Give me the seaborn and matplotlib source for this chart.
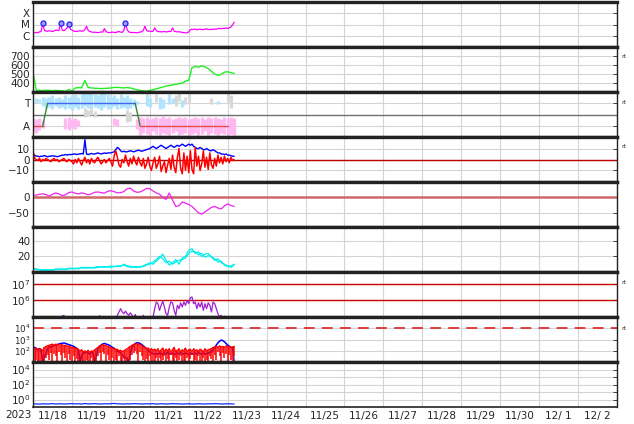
import numpy as np
import matplotlib
matplotlib.use('Agg')
import matplotlib.pyplot as plt
from matplotlib.ticker import NullLocator
import seaborn as sns

# time axis: hours since 2023-11-18 00:00
hours = np.arange(0, 125)
hours2 = np.arange(0, 125, 2)
day_labels = ['11/18', '11/19', '11/20', '11/21', '11/22', '11/23', '11/24', '11/25',
              '11/26', '11/27', '11/28', '11/29', '11/30', '12/ 1', '12/ 2']

# X-ray flux, units of 1e-6 W/m2 (C class), hourly
xray_c = [1.8, 1.8, 2.0, 1.9, 2.2, 2.4, 13, 3.2, 2.6, 2.5, 2.8, 2.6, 2.4, 2.7, 3.2, 3.0, 2.9, 13, 3.2, 2.8, 3.5, 5.0, 12, 4.0,
          3.2, 2.6, 2.5, 2.4, 2.6, 2.8, 2.5, 2.7, 3.5, 7.0, 3.0, 2.4, 2.2, 2.0, 2.1, 2.0, 1.9, 2.0, 2.2, 2.1, 4.3, 2.4, 2.0, 1.9,
          2.0, 2.1, 2.0, 1.9, 2.2, 2.4, 2.1, 2.0, 3.0, 13, 3.5, 2.2, 2.0, 1.9, 2.0, 1.9, 1.8, 2.0, 2.1, 2.3, 3.0, 7.0, 3.0, 2.5,
          2.6, 2.4, 2.5, 5.0, 2.8, 2.4, 2.3, 2.2, 2.3, 2.4, 2.2, 2.3, 2.5, 2.4, 5.0, 2.6, 2.3, 2.2, 2.3, 2.1, 2.0, 1.9, 1.8, 1.8,
          2.2, 3.5, 3.8, 3.6, 4.0, 3.4, 3.7, 3.9, 3.5, 3.6, 3.8, 4.2, 3.7, 3.5, 3.9, 3.6, 4.0, 3.8, 4.3, 4.5, 4.2, 4.6, 4.4, 4.8,
          4.5, 5.0, 6.0, 9.0, 16.0]
flare_t = [6, 17, 22, 57]
flare_c = [13, 13, 12, 13]

# solar wind speed km/s, 2-hourly
speed = [520, 320, 318, 316, 320, 318, 315, 318, 316, 314, 305, 330,
         310, 345, 348, 346, 428, 350, 345, 342, 340, 338, 340, 342,
         345, 350, 352, 348, 345, 350, 345, 335, 325, 318, 312, 310,
         318, 325, 335, 345, 355, 365, 372, 378, 385, 392, 398, 420,
         430, 570, 585, 575, 590, 580, 560, 530, 500, 485, 495, 520,
         525, 515, 505]

# IMF sector: toward (+1) / away (-1)
sector_t = [0, 6, 9, 63, 66, 120]
sector_v = [-1, -1, 1, 1, -1, -1]
nan = np.nan
blue_hi = [nan, 1.5, 1.4, 1.6, 1.5, 1.6, 1.7, 1.5, 1.6, 1.4, 1.7, 1.6, 1.7, 1.8, 1.6, 1.9, 2.0, 1.9, 2.0, 1.8, 1.7,
           1.9, 2.0, 1.8, 1.6, 1.7, 1.5, 1.8, 1.6, 1.7, 1.5, 1.4, 1.2, nan, nan, 1.7, 1.5, nan, nan, 1.6, 1.4, nan,
           1.8, 1.5, nan, nan, 1.3, nan, nan, nan, nan, nan, nan, nan, nan, nan, nan, 1.2, nan, nan, nan, nan, nan]
blue_lo = [nan, 1.0, 1.1, 0.8, 0.6, 0.7, 0.5, 0.8, 0.6, 0.7, 0.5, 0.6, 0.4, 0.7, 0.5, 0.6, 0.8, 0.6, 0.5, 0.7, 0.6,
           0.4, 0.7, 0.5, 0.6, 0.8, 0.5, 0.6, 0.7, 0.5, 0.6, 0.8, 0.9, nan, nan, 0.8, 0.7, nan, nan, 0.5, 0.6, nan,
           0.9, 1.0, nan, nan, 0.7, nan, nan, nan, nan, nan, nan, nan, nan, nan, nan, 0.9, nan, nan, nan, nan, nan]
pink_hi = [-0.3, -0.4, -0.3, -0.5, nan, nan, nan, nan, nan, nan, -0.3, -0.2, -0.4, -0.3, -0.5,
           nan, nan, nan, nan, nan, nan, nan, nan, nan, nan, -0.3, -0.4, nan, nan, nan, nan, nan, -0.4,
           -0.2, -0.3, -0.2, -0.4, -0.3, -0.2, -0.3, -0.1, -0.3, -0.2, -0.4, -0.3, -0.2, -0.3, -0.2,
           -0.4, -0.3, -0.2, -0.3, -0.2, -0.4, -0.2, -0.3, -0.2, -0.3, -0.4, -0.2, -0.3, -0.2, -0.3]
pink_lo = [-1.5, -1.6, -1.4, -1.2, nan, nan, nan, nan, nan, nan, -1.3, -1.4, -1.2, -1.3, -1.0,
           nan, nan, nan, nan, nan, nan, nan, nan, nan, nan, -0.9, -1.0, nan, nan, nan, nan, nan, -1.3,
           -1.8, -1.6, -1.7, -1.8, -1.5, -1.7, -1.8, -1.6, -1.7, -1.8, -1.6, -1.5, -1.8, -1.7, -1.6,
           -1.8, -1.7, -1.6, -1.8, -1.7, -1.5, -1.8, -1.6, -1.7, -1.8, -1.6, -1.7, -1.8, -1.7, -1.8]
grey_t = [32, 34, 36, 38, 58, 60, 70, 76, 88, 90, 94, 96, 110, 120, 122]
grey_hi = [0.6, 0.4, 0.5, 0.3, 0.4, 0.2, 1.9, 1.8, 1.7, 1.9, 1.6, 1.8, 1.5, 1.9, 1.7]
grey_lo = [-0.2, -0.1, 0.0, -0.2, -0.7, -0.6, 0.9, 1.1, 0.8, 1.2, 0.9, 1.0, 0.9, 1.1, 0.6]

# IMF Bt and Bz (nT), hourly
bt = [5, 4, 3, 3, 2.5, 3, 3, 3.5, 3, 2.5, 3, 3, 3.5, 3, 3, 2.5, 3, 3.5, 4, 4, 4.5, 4, 4.5, 4.5,
      4.5, 5, 5, 4.5, 5, 5, 5.5, 5, 18, 5, 4.5, 5, 5.5, 5, 5, 5.5, 6, 5.5, 5, 5.5, 6, 5.5, 6, 6,
      6, 6.5, 7, 9, 11, 10, 8, 7, 7.5, 7, 7, 7.5, 8, 7.5, 7, 7.5, 8, 8.5, 8, 7.5, 8, 8.5, 9, 9.5,
      10, 11, 12, 11, 10, 11, 12, 13, 12, 11, 10, 11, 12, 13, 12, 11, 12, 13, 12, 13, 14, 13, 12, 13,
      14, 13, 14, 12, 11, 10, 10, 11, 10, 9, 9, 10, 9, 8, 8, 9, 8, 7, 6, 6, 5, 5, 4.5, 5,
      4, 4, 3.5, 3, 3]
bz = [8, 1, 0, -1, 1, -2, 0, -1, 1, 0, -1, -2, 0, 1, -1, 0, -2, -1, 0, 1, -1, -2, 0, -1,
      -2, -4, 0, -3, 1, -2, -5, -1, 2, -3, 0, -4, 1, -2, -3, 0, 2, -1, -4, -2, 0, -3, -1, 1,
      -2, -6, 3, 8, 2, -5, -7, 0, -3, 4, -2, -6, 1, -4, 3, -2, -5, 2, -3, -6, 1, -8, -4, 2,
      -6, -10, -3, 2, -8, -4, 3, -11, -6, -2, -12, -5, 1, -9, 4, -7, -12, 2, 10, -8, -13, 6, -10, 3,
      -12, 8, -9, -13, 11, -6, 3, -10, -4, 8, -7, 2, -9, 6, -5, -8, 1, -6, 4, -3, 2, -4, 3, -2,
      1, -3, 2, -1, 0]

# Dst (nT), 2-hourly
dst = [6, 5, 8, 9, 7, 2, 8, 12, 9, 4, 6, 13, 15, 11, 9, 12, 10, 6, 9, 14,
       15, 13, 11, 17, 19, 16, 12, 13, 16, 25, 27, 18, 14, 15, 20, 26, 25, 18, 12, 8,
       -2, -8, 12, -10, -30, -28, -16, -20, -24, -30, -40, -50, -54, -47, -40, -33, -30, -35, -38, -28,
       -22, -27, -30]

# cyan index, 2-hourly (two traces)
cyan_a = [4, 3, 3, 2, 3, 2, 3, 3, 4, 3, 4, 4, 5, 4, 5, 5,
          6, 5, 6, 5, 6, 7, 6, 7, 6, 7, 8, 7, 10, 8, 7, 6,
          6, 7, 7, 9, 12, 10, 14, 18, 23, 15, 9, 12, 16, 10, 18, 20,
          28, 30, 24, 26, 20, 23, 24, 19, 15, 17, 12, 10, 8, 6, 9]
cyan_b = [5, 4, 3, 3, 2, 3, 2, 4, 3, 4, 3, 5, 4, 5, 4, 6,
          5, 6, 5, 6, 7, 6, 7, 6, 8, 7, 7, 8, 9, 7, 6, 7,
          7, 6, 8, 10, 10, 13, 16, 20, 17, 12, 14, 10, 13, 15, 16, 18,
          24, 27, 26, 22, 24, 19, 21, 20, 17, 13, 14, 9, 7, 8, 10]

# purple flux, log10, hourly (4.8 = below axis)
purple_log = ([4.8] * 18 + [5.05, 5.1, 4.9] + [4.8] * 20 + [5.08, 4.9] + [4.8] * 9
              + [5.1, 5.3, 5.5, 5.3, 5.2, 5.35, 5.2, 5.1, 5.25, 5.1, 4.9, 5.15, 4.9]
              + [4.8] * 3 + [5.1] + [4.8] * 5
              + [5.0, 5.5, 5.9, 5.8, 5.4, 5.7, 5.95, 5.6, 5.2, 5.1,
                 5.6, 5.9, 5.85, 5.4, 5.1, 5.7, 5.5, 5.85, 5.6, 5.9,
                 5.7, 6.0, 5.8, 6.15, 6.2, 5.8, 5.9, 5.5, 5.85, 5.6,
                 5.9, 5.4, 5.8, 5.5, 5.85, 5.7, 5.3, 5.9, 5.8, 5.5,
                 5.2, 5.0, 5.1, 4.9, 5.05]
              + [4.8] * 6)

# electron flux, log10, hourly
elec_blue = [2.2, 2.3, 2.2, 2.1, 2.2, 2.0, 1.0, 1.4, 1.8,
             2.2, 2.3, 2.35, 2.4, 2.45, 2.5, 2.55, 2.6, 2.65, 2.65, 2.7, 2.65, 2.6, 2.55, 2.5, 2.45,
             2.4, 2.3, 2.2, 2.1, 1.0, 1.6, 1.8, 1.8, 1.9, 1.8, 1.7, 1.9, 1.8, 1.0, 1.5,
             2.2, 2.4, 2.5, 2.6, 2.65, 2.6, 2.55, 2.5, 2.4, 2.3, 2.2, 2.1, 2.0, 1.9, 1.8, 1.6, 1.5, 1.4, 1.3,
             1.0, 1.8, 2.3, 2.5, 2.65, 2.7, 2.7, 2.65, 2.55, 2.45, 2.3, 2.2, 2.0, 1.9, 1.8, 1.75, 1.7, 1.75,
             1.7, 1.8, 1.75, 1.65, 1.8, 1.7, 1.85, 1.75, 1.7, 1.8, 1.65, 1.75, 1.8, 1.7, 1.85, 1.75, 1.7,
             1.8, 1.75, 1.65, 1.8, 1.7, 1.75, 1.8, 1.7, 1.85, 1.75, 1.7, 1.8, 1.7, 1.75, 1.8, 1.85, 1.9,
             2.1, 2.3, 2.5, 2.7, 2.85, 2.95, 2.9, 2.8, 2.65, 2.5, 2.4, 2.3, 2.25, 1.0]
elec_red_hi = [2.3, 2.2, 2.25, 2.1, 2.2, 2.15, 2.0, 2.3, 2.4,
               2.45, 2.5, 2.55, 2.6, 2.5, 2.6, 2.55, 2.6, 2.5, 2.55, 2.45, 2.5, 2.4, 2.45, 2.35, 2.3,
               2.3, 2.2, 2.25, 2.1, 2.0, 2.1, 1.9, 2.0, 1.9, 2.05, 1.85, 2.0, 1.95, 2.1, 2.2,
               2.3, 2.45, 2.5, 2.55, 2.5, 2.45, 2.4, 2.35, 2.3, 2.2, 2.25, 2.1, 2.15, 2.0, 2.05, 1.95, 2.0, 2.1, 2.2,
               2.3, 2.4, 2.5, 2.55, 2.6, 2.65, 2.6, 2.55, 2.5, 2.4, 2.3, 2.2, 2.25, 2.1, 2.2, 2.05, 2.15, 2.0,
               2.2, 1.9, 2.1, 2.25, 1.95, 2.15, 2.0, 2.2, 1.9, 2.1, 2.3, 1.95, 2.05, 2.2, 1.9, 2.1, 2.0,
               2.25, 1.95, 2.1, 2.15, 1.9, 2.2, 2.0, 2.1, 1.95, 2.15, 2.05, 1.9, 2.2, 2.0, 2.1, 2.15, 2.2,
               2.3, 2.35, 2.4, 2.3, 2.45, 2.35, 2.4, 2.3, 2.45, 2.35, 2.4, 2.3, 2.35, 2.4]
elec_red_lo = [0.8, 0.8, 1.2, 0.8, 0.8, 1.0, 0.8, 0.8, 1.4,
               1.6, 1.2, 1.8, 0.8, 1.7, 1.5, 0.8, 1.9, 1.6, 0.8, 1.8, 1.4, 0.8, 1.7, 1.2, 0.8,
               1.5, 0.8, 1.3, 0.8, 0.8, 1.1, 0.8, 0.8, 1.2, 0.8, 0.8, 1.4, 0.8, 0.8, 1.0,
               1.5, 1.8, 0.8, 1.9, 1.7, 0.8, 1.6, 1.2, 0.8, 1.4, 0.8, 1.2, 0.8, 1.5, 0.8, 0.8, 1.3, 0.8, 0.8,
               0.8, 1.2, 1.6, 1.8, 2.0, 1.7, 0.8, 1.9, 1.5, 1.2, 0.8, 1.3, 0.8, 1.5, 0.8, 1.1, 0.8, 1.4,
               0.8, 1.4, 0.8, 1.2, 1.5, 0.8, 1.3, 0.8, 1.6, 1.0, 0.8, 1.4, 0.8, 1.2, 1.5, 0.8, 1.1,
               0.8, 1.4, 0.8, 1.3, 1.6, 0.8, 1.2, 0.8, 1.5, 0.8, 1.0, 1.4, 0.8, 1.2, 0.8, 1.5, 1.3,
               0.8, 1.6, 1.2, 1.9, 1.5, 0.8, 1.8, 1.4, 1.7, 0.8, 1.6, 1.2, 0.8, 1.5]

# bottom panel flux, 2-hourly
low_flux = [0.25, 0.26, 0.24, 0.27, 0.25, 0.26, 0.28, 0.25, 0.27, 0.26,
            0.25, 0.27, 0.28, 0.26, 0.27, 0.25, 0.29, 0.26, 0.27, 0.28,
            0.26, 0.25, 0.27, 0.26, 0.28, 0.30, 0.27, 0.26, 0.25, 0.27,
            0.26, 0.28, 0.27, 0.26, 0.25, 0.27, 0.26, 0.28, 0.25, 0.26,
            0.27, 0.25, 0.26, 0.28, 0.27, 0.26, 0.25, 0.26, 0.27, 0.25,
            0.26, 0.27, 0.26, 0.25, 0.27, 0.26, 0.28, 0.27, 0.25, 0.26,
            0.27, 0.26, 0.25]

sns.set_style('white')
plt.rcParams['font.family'] = ['DejaVu Sans']
plt.rcParams['mathtext.fontset'] = 'dejavusans'

fig, axes = plt.subplots(9, 1, figsize=(6.34, 4.24), dpi=100, sharex=True)
fig.subplots_adjust(left=33 / 634, right=617 / 634, top=1 - 2 / 424, bottom=1 - 407 / 424, hspace=0)

LS = 7.5


def style_axis(ax, size=LS):
    ax.set_xlim(0, 360)
    ax.set_xticks(np.arange(0, 361, 24))
    ax.set_xticks(np.arange(12, 360, 24), minor=True)
    ax.grid(True, which='major', color='#d4d4d4', lw=0.8)
    ax.tick_params(axis='x', which='both', labelbottom=False, length=0)
    ax.tick_params(axis='y', which='major', direction='in', length=3, right=True,
                   labelsize=size, pad=2, width=0.6)
    ax.yaxis.set_minor_locator(NullLocator())
    for side in ['left', 'right']:
        ax.spines[side].set_linewidth(1.0)
        ax.spines[side].set_color('#222222')
    for side in ['top', 'bottom']:
        ax.spines[side].set_linewidth(2.4)
        ax.spines[side].set_color('#222222')
    ax.set_ylabel('')
    ax.set_axisbelow(True)


def line(ax, x, y, color, lw=0.9):
    sns.lineplot(x=x, y=y, ax=ax, color=color, lw=lw, estimator=None, sort=False, legend=False)


# 1 X-ray
ax = axes[0]
ax.set_yscale('log')
line(ax, hours, np.array(xray_c) * 1e-6, '#ff00ff', 0.9)
sns.scatterplot(x=flare_t, y=np.array(flare_c) * 1e-6, ax=ax, s=13, color='#a0a0ff',
                edgecolor='#2020ff', linewidth=0.9, zorder=5, legend=False)
ax.set_ylim(1e-7, 1e-3)
ax.set_yticks([1e-6, 1e-5, 1e-4], ['C', 'M', 'X'])
style_axis(ax)

# 2 speed
ax = axes[1]
line(ax, hours2, speed, '#22ee22', 1.0)
ax.set_ylim(300, 800)
ax.set_yticks([400, 500, 600, 700])
style_axis(ax)

# 3 sector
ax = axes[2]
ax.axhline(0, color='#707070', lw=1.0)
ax.vlines(grey_t, grey_lo, grey_hi, color='#d8d8d8', lw=2.2)
ax.vlines(hours2, blue_lo, blue_hi, color='#b0e4ff', lw=2.4)
ax.vlines(hours2, pink_lo, pink_hi, color='#ffb8f0', lw=2.4)
for i in range(len(sector_t) - 1):
    v0, v1 = sector_v[i], sector_v[i + 1]
    c = '#4466ee' if v0 == v1 == 1 else ('#e05050' if v0 == v1 == -1 else '#338833')
    line(ax, sector_t[i:i + 2], sector_v[i:i + 2], c, 1.0)
ax.set_ylim(-2, 2)
ax.set_yticks([1, -1], ['T', 'A'])
style_axis(ax)

# 4 Bt / Bz
ax = axes[3]
ax.axhline(0, color='#bb0000', lw=1.0)
line(ax, hours, bt, '#0000ff', 1.0)
line(ax, hours, bz, '#ff0000', 1.1)
ax.set_ylim(-20.5, 20.5)
ax.set_yticks([10, 0, -10], ['10', '0', '\u221210'])
style_axis(ax)

# 5 Dst
ax = axes[4]
ax.axhline(0, color='#d06868', lw=1.8)
line(ax, hours2, dst, '#ee22ee', 0.9)
ax.set_ylim(-94, 46)
ax.set_yticks([0, -50], ['0', '\u221250'])
style_axis(ax)

# 6 cyan
ax = axes[5]
line(ax, hours2, cyan_a, '#00eeee', 0.9)
line(ax, hours2, cyan_b, '#00eeee', 0.9)
ax.set_ylim(0, 58)
ax.set_yticks([20, 40])
style_axis(ax)

# 7 purple
ax = axes[6]
ax.set_yscale('log')
ax.axhline(1e6, color='#cc0000', lw=1.0)
ax.axhline(1e7, color='#cc0000', lw=1.0)
line(ax, hours, 10 ** np.array(purple_log), '#a020d0', 0.9)
ax.set_ylim(1e5, 5e7)
ax.set_yticks([1e6, 1e7])
style_axis(ax)

# 8 electrons
ax = axes[7]
ax.set_yscale('log')
ax.axhline(1e4, color='#e03030', lw=1.3, dashes=(6, 4))
line(ax, hours, 10 ** np.array(elec_blue), '#0000ff', 1.1)
ax.vlines(hours, 10 ** np.array(elec_red_lo), 10 ** np.array(elec_red_hi), color='#ff0000', lw=1.1)
line(ax, hours, 10 ** np.array(elec_red_hi), '#ff0000', 0.8)
ax.set_ylim(10, 1e5)
ax.set_yticks([1e2, 1e3, 1e4])
style_axis(ax, size=6.3)

# 9 bottom
ax = axes[8]
ax.set_yscale('log')
line(ax, hours2, low_flux, '#1030ff', 0.9)
ax.set_ylim(0.1, 1e5)
ax.set_yticks([1, 1e1, 1e2, 1e3, 1e4], ['$10^0$', '', '$10^2$', '', '$10^4$'])
style_axis(ax)
ax.spines['bottom'].set_linewidth(1.2)
ax.set_xticks(np.arange(12, 360, 24), day_labels, minor=True)
ax.tick_params(axis='x', which='minor', labelbottom=True, labelsize=LS, pad=3)

fig.text(18 / 634, 1 - 415 / 424, '2023', fontsize=LS, ha='center', va='center')
for yy in [57, 102, 147, 283, 328]:
    fig.text(621 / 634, 1 - yy / 424, 'rt', fontsize=4.5, va='center', color='#333333')

fig.savefig('out.png', dpi=100)
